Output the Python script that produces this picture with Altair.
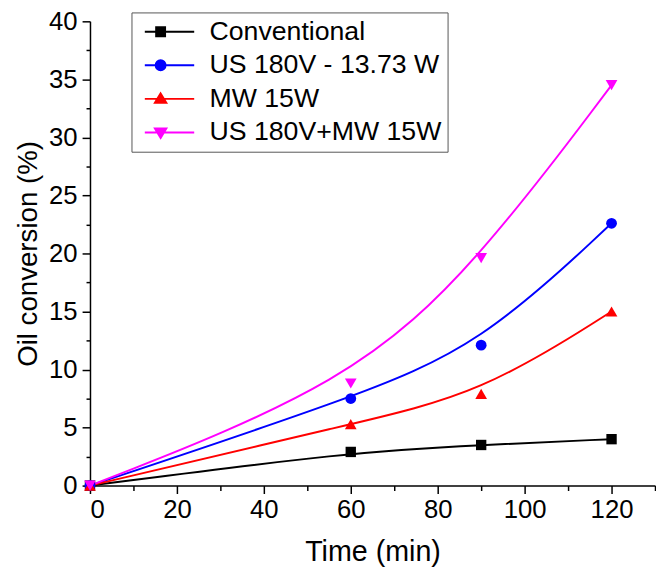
import altair as alt
import pandas as pd

series = ["Conventional", "US 180V - 13.73 W", "MW 15W", "US 180V+MW 15W"]
time_min = [0, 60, 90, 120]
conventional = [0, 2.9, 3.5, 4.0]
us_180v = [0, 7.5, 12.1, 22.6]
mw_15w = [0, 5.3, 7.9, 15.0]
us_mw = [0, 8.8, 19.6, 34.5]
colors = ["#000000", "#0000FF", "#FF0000", "#FF00FF"]
shapes = ["square", "circle", "triangle-up", "triangle-down"]
marker_sizes = [110, 120, 140, 140]
x_major = [0, 20, 40, 60, 80, 100, 120]
x_minor = [10, 30, 50, 70, 90, 110, 130]
y_major = [0, 5, 10, 15, 20, 25, 30, 35, 40]
y_minor = [2.5, 7.5, 12.5, 17.5, 22.5, 27.5, 32.5, 37.5]

# legend glyphs: line + marker (unit symbol space)
legend_glyphs = [
    "M-3.2,0H6.8M-0.9,-0.9H0.9V0.9H-0.9Z",
    "M-3.2,0H6.8M-1,0A1,1,0,1,0,1,0A1,1,0,1,0,-1,0Z",
    "M-3.2,0H6.8M0,-1.1L1.15,0.8H-1.15Z",
    "M-3.2,0H6.8M0,1.1L1.15,-0.8H-1.15Z",
]

rows = []
for name, vals in zip(series, [conventional, us_180v, mw_15w, us_mw]):
    for t, v in zip(time_min, vals):
        rows.append({"series": name, "time": t, "value": v})
df = pd.DataFrame(rows)

FONT = "Liberation Sans"
xscale = alt.Scale(domain=[0, 130], nice=False, zero=False)
yscale = alt.Scale(domain=[0, 40], nice=False, zero=False)
color_scale = alt.Scale(domain=series, range=colors)
glyph_scale = alt.Scale(domain=series, range=legend_glyphs)

base = alt.Chart(df)

legend_def = alt.Legend(
    orient="none", legendX=42, legendY=-9, title=None,
    symbolSize=100, symbolStrokeWidth=2, symbolOpacity=1,
    symbolOffset=10, labelOffset=36,
    labelFont=FONT, labelFontSize=27, labelColor="black",
    strokeColor="#555555", padding=6, rowPadding=6, labelLimit=500,
)

# invisible layer that carries the legend and the minor ticks
legend_layer = base.mark_point(strokeWidth=2, opacity=0).encode(
    x=alt.X("time:Q", scale=xscale,
            axis=alt.Axis(values=x_minor, labels=False, title=None, orient="bottom",
                          tickSize=5, domain=False)),
    y=alt.Y("value:Q", scale=yscale,
            axis=alt.Axis(values=y_minor, labels=False, title=None, orient="left",
                          tickSize=4, domain=False)),
    fill=alt.Fill("series:N", scale=color_scale, legend=legend_def),
    stroke=alt.Stroke("series:N", scale=color_scale, legend=legend_def),
    shape=alt.Shape("series:N", scale=glyph_scale, legend=legend_def),
)

line_layers = []
point_layers = []
for i, (name, col, shp, sz) in enumerate(zip(series, colors, shapes, marker_sizes)):
    sub = base.transform_filter(alt.datum.series == name)
    if i == 0:
        xa = alt.Axis(values=x_major, title="Time (min)", orient="bottom",
                      tickSize=8, labelPadding=3, titlePadding=16, titleFontSize=29)
        ya = alt.Axis(values=y_major, title="Oil conversion (%)", orient="left",
                      tickSize=8, labelPadding=5, titlePadding=6, titleFontSize=28)
    else:
        xa = None
        ya = None
    # Origin-style B-spline connection
    line_layers.append(
        sub.mark_line(strokeWidth=2, interpolate="basis", color=col).encode(
            x=alt.X("time:Q", scale=xscale, axis=xa),
            y=alt.Y("value:Q", scale=yscale, axis=ya),
        )
    )
    point_layers.append(
        sub.mark_point(filled=True, opacity=1, size=sz, shape=shp, color=col).encode(
            x=alt.X("time:Q", scale=xscale, axis=None),
            y=alt.Y("value:Q", scale=yscale, axis=None),
        )
    )

chart = alt.layer(*line_layers, legend_layer, *point_layers).resolve_axis(
    x="independent", y="independent"
).properties(
    width=572, height=470, autosize="none",
    padding={"left": 83, "top": 10, "right": 1, "bottom": 86},
).configure_view(stroke=None).configure_axis(
    domainColor="black", domainWidth=1.5, tickColor="black", tickWidth=1.5,
    labelFont=FONT, labelFontSize=26, labelColor="black",
    titleFont=FONT, titleFontWeight="normal", titleColor="black",
    grid=False,
)

chart.save("out.html", embed_options={"renderer": "svg", "actions": False})
